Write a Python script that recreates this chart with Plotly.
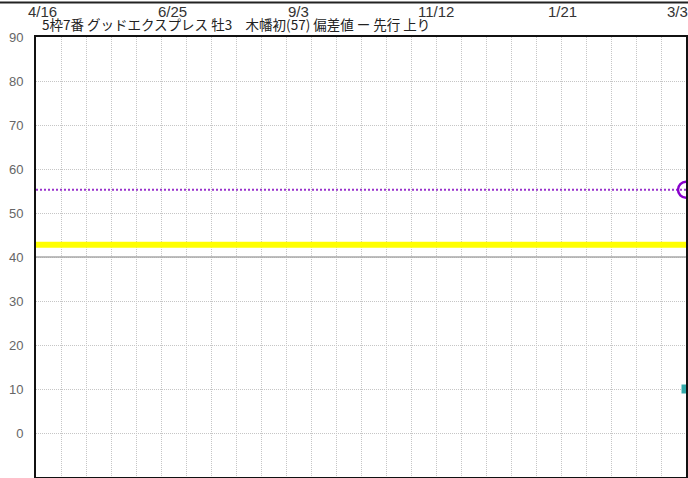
import plotly.graph_objects as go

# --- data ---
date_labels = ["4/16", "6/25", "9/3", "11/12", "1/21", "3/31"]
date_days = [0, 70, 140, 210, 280, 350]
y_ticks = [0, 10, 20, 30, 40, 50, 60, 70, 80, 90]

hensa_x = [0, 350]
hensa_y = [55.3, 55.3]
hensa_marker_x = [350]
hensa_marker_y = [55.3]

yellow_x = [0, 350]
yellow_y = [42.8, 42.8]

avg_x = [0, 350]
avg_y = [40, 40]

teal_x = [350]
teal_y = [10]

title_text = "5枠7番 グッドエクスプレス 牡3\u3000木幡初(57) 偏差値 ー 先行 上り"

fig = go.Figure()

fig.add_trace(go.Scatter(x=avg_x, y=avg_y, mode="lines",
                         line=dict(color="#a8a8a8", width=1.5),
                         hoverinfo="skip", showlegend=False))
fig.add_trace(go.Scatter(x=yellow_x, y=yellow_y, mode="lines",
                         line=dict(color="#ffff00", width=6),
                         hoverinfo="skip", showlegend=False))
fig.add_trace(go.Scatter(x=hensa_x, y=hensa_y, mode="lines",
                         line=dict(color="#9933cc", width=2, dash="2px,2px"),
                         hoverinfo="skip", showlegend=False))
fig.add_trace(go.Scatter(x=hensa_marker_x, y=hensa_marker_y, mode="markers",
                         marker=dict(symbol="circle-open", size=16,
                                     color="#8800cc", line=dict(width=2.5, color="#8800cc")),
                         cliponaxis=False, hoverinfo="skip", showlegend=False))
fig.add_trace(go.Scatter(x=teal_x, y=teal_y, mode="markers",
                         marker=dict(symbol="square", size=9, color="#33aaaa"),
                         cliponaxis=False, hoverinfo="skip", showlegend=False))

annotations = []
n = len(date_labels)
for i, (lab, d) in enumerate(zip(date_labels, date_days)):
    annotations.append(dict(
        x=d, y=1.057, xref="x", yref="paper", text=lab, showarrow=False,
        xanchor="left", yanchor="middle", xshift=(-21 if i == n - 1 else -10),
        font=dict(family="Liberation Sans, Arial, sans-serif", size=15, color="#333333")))
annotations.append(dict(
    x=0, y=1.03, xref="x", yref="paper", text=title_text, showarrow=False,
    xanchor="left", yanchor="middle", xshift=4,
    font=dict(family="Noto Sans CJK JP", size=13.5, color="#222222")))

fig.update_layout(
    width=688, height=478,
    margin=dict(l=36, r=2, t=37, b=1, autoexpand=False),
    paper_bgcolor="white", plot_bgcolor="white",
    showlegend=False,
    annotations=annotations,
    shapes=[dict(type="line", xref="paper", yref="paper",
                 x0=-0.06, x1=1.01, y0=1.0785, y1=1.0785,
                 line=dict(color="#222222", width=2))],
    xaxis=dict(range=[0, 350], tick0=0, dtick=350 / 26, showticklabels=False,
               showgrid=True, gridcolor="#c6c6c6", griddash="1px,1px", gridwidth=1,
               zeroline=False, showline=True, linecolor="#111111", linewidth=2,
               mirror=True, ticks=""),
    yaxis=dict(range=[-10, 90], tickvals=y_ticks, ticktext=[str(v) for v in y_ticks],
               showgrid=True, gridcolor="#c6c6c6", griddash="1px,1px", gridwidth=1,
               zeroline=False, showline=True, linecolor="#111111", linewidth=2,
               mirror=True, ticks="", ticklabelstandoff=8,
               tickfont=dict(family="Liberation Sans, Arial, sans-serif", size=13, color="#666666")),
)

fig.write_html("out.html", config={"displayModeBar": False},
               post_script="document.body.style.margin='0';document.body.style.overflow='hidden';")
